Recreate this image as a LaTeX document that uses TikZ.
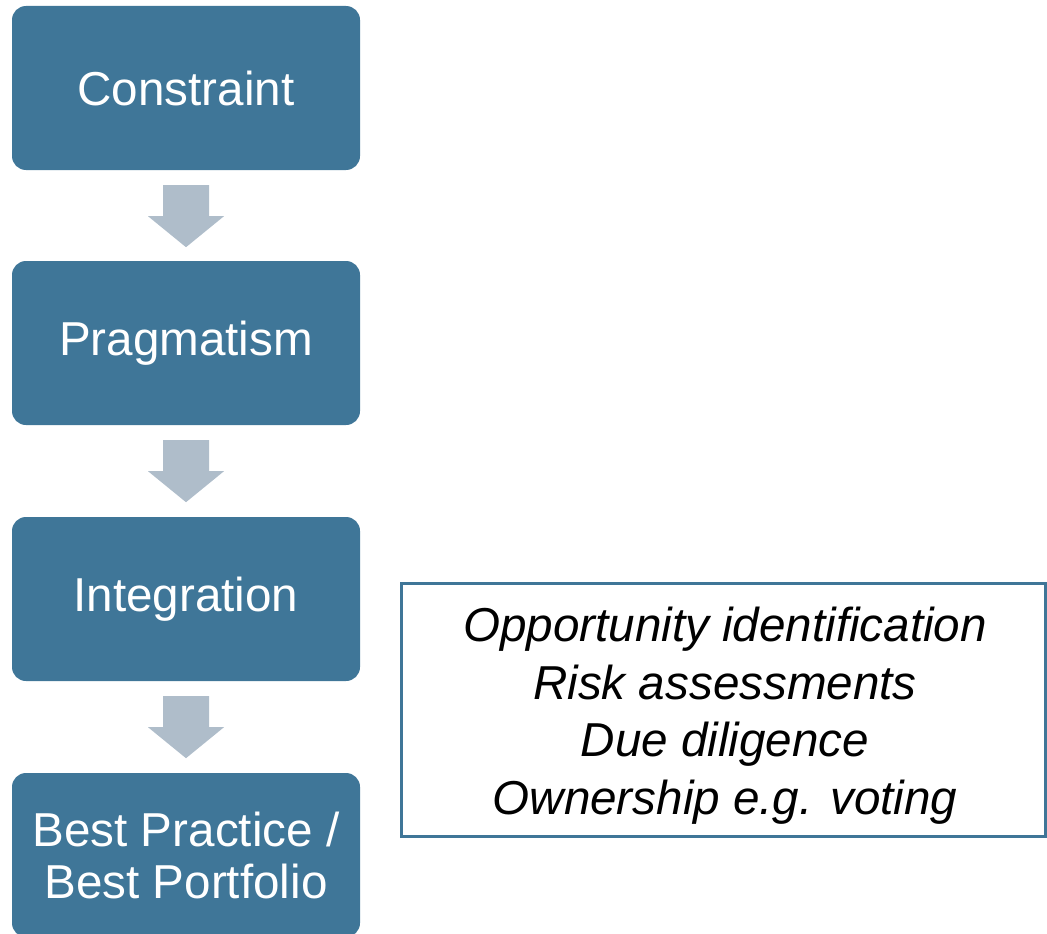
\documentclass[tikz,border=0pt]{standalone}
\usepackage{fontspec}
\setmainfont{Liberation Sans}
\usetikzlibrary{calc}
\definecolor{boxblue}{RGB}{63,118,152}
\definecolor{arrowgray}{RGB}{175,189,202}
\tikzset{
  stagebox/.style={fill=boxblue, draw=none, rounded corners=14pt, minimum width=348pt, minimum height=164pt, text=white, align=center, font=\fontsize{47.6}{52}\selectfont, inner sep=0pt},
  noteframe/.style={draw=boxblue, line width=3pt, fill=white, minimum width=644pt, minimum height=253pt, inner sep=0pt},
  notetext/.style={align=center, font=\fontsize{47.6}{57.5}\selectfont\itshape, inner sep=0pt},
  blockarrow/.style={fill=arrowgray, draw=none}
}
\begin{document}
\begin{tikzpicture}[x=1pt,y=-1pt]
\useasboundingbox (0,0) rectangle (1047,934);
\node[stagebox] (c1) at (186,88) {Constraint};
\node[stagebox] (c2) at (186,343) {Pragmatism};
\node[stagebox] (c3) at (186,599) {Integration};
\node[stagebox] (c4) at (186,855) {Best Practice /\\Best Portfolio};
\node[noteframe] (n) at (723,709.5) {};
\node[notetext] (nt) at ($(n.center)+(2,6)$) {Opportunity identification\\Risk assessments\\Due diligence\\Ownership e.g. voting};
\foreach \a in {c1,c2,c3}{
  \path[blockarrow] ($(\a.south)+(-23,15)$) -- ++(46,0) -- ++(0,31) -- ++(15,0) -- ($(\a.south)+(0,77)$) -- ($(\a.south)+(-38,46)$) -- ++(15,0) -- cycle;
}
\end{tikzpicture}
\end{document}
